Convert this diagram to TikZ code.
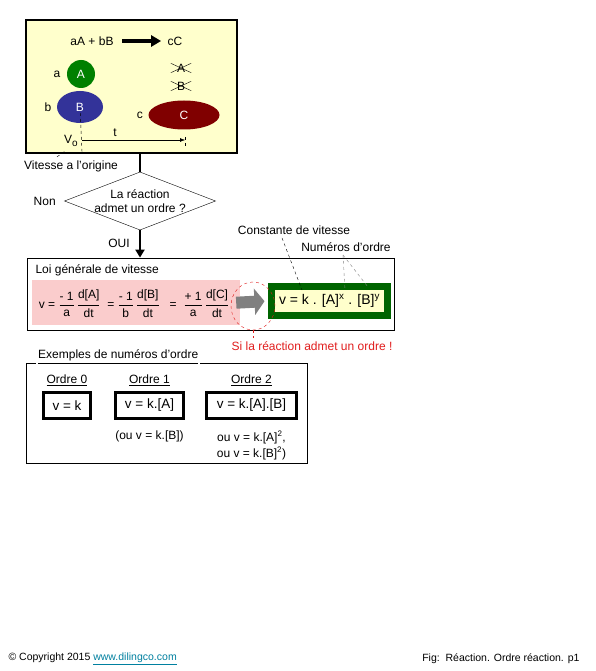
\documentclass[tikz,border=0pt]{standalone}
\usepackage{fontspec}
\setmainfont{Liberation Sans}
\usepackage{amsmath}
\usepackage{xcolor}
\usepackage{tikz}
\usetikzlibrary{arrows.meta, positioning, shapes.geometric}
\definecolor{paleyellow}{RGB}{255,255,204}
\definecolor{leafgreen}{RGB}{0,128,0}
\definecolor{inkblue}{RGB}{51,51,153}
\definecolor{winered}{RGB}{128,0,0}
\definecolor{softpink}{RGB}{250,204,204}
\definecolor{darkgreen}{RGB}{0,100,0}
\definecolor{alertred}{RGB}{225,30,30}
\definecolor{linkteal}{RGB}{0,128,160}
\newcommand{\fracpart}[2]{\genfrac{}{}{1.1pt}{0}{\text{#1}}{\text{#2}}}
\tikzset{
  panel/.style={rectangle, draw, line width=1.2pt, fill=paleyellow},
  frame/.style={rectangle, draw, line width=0.8pt},
  species/.style={ellipse, text=white, inner sep=0pt},
  gone/.style={inner sep=0pt, minimum width=20pt, minimum height=9pt},
  decision/.style={diamond, draw, aspect=2.6, align=center, inner sep=0pt, fill=white},
  flow/.style={line width=2.5pt},
  flowarrow/.style={line width=2.5pt, -{Triangle[length=8pt, width=9pt]}},
  bigarrow/.style={line width=3.5pt, -{Triangle[length=10pt, width=11pt]}},
  grayarrow/.style={line width=12pt, gray, -{Triangle[length=10pt, width=26pt]}},
  ratebox/.style={rectangle, draw=darkgreen, line width=7pt, fill=paleyellow, font=\fontsize{14}{16}\selectfont},
  formbox/.style={rectangle, draw, line width=2.5pt, fill=white, inner sep=0pt, font=\fontsize{13.5}{15}\selectfont},
  hint/.style={dashed, thin}
}

\begin{document}
\begin{tikzpicture}[x=1pt, y=-1pt, font=\fontsize{12}{14}\selectfont]
    \fill[white] (0,0) rectangle (595,671);

    \node[panel, minimum width=211pt, minimum height=133pt] (scene) at (131.5,86.5) {};
    \node (react) at (92,41) {aA + bB};
    \node (prod) at (175,41) {cC};
    \draw[bigarrow, shorten <=5pt, shorten >=3pt] (react) -- (prod);

    \node[species, fill=leafgreen, minimum width=28pt, minimum height=28pt] (atomA) at (81,74) {A};
    \node[species, fill=inkblue, minimum width=46pt, minimum height=32pt] (atomB) at (80,107) {B};
    \node[species, fill=winered, minimum width=71pt, minimum height=29pt] (atomC) at (184,115) {C};
    \node[left=3pt of atomA] (coefA) {a};
    \node[left=2pt of atomB] (coefB) {b};
    \node[left=2pt of atomC] (coefC) {c};

    \node[gone] (goneA) at (181,68) {A};
    \node[gone] (goneB) at (181,86) {B};
    \foreach \s in {goneA, goneB} {
        \draw[thin] (\s.north west) -- (\s.south east);
        \draw[thin] (\s.south west) -- (\s.north east);
    }

    \coordinate (tstart) at (82,140);
    \coordinate (tend) at (185,140);
    \coordinate (vbase) at (82,152);
    \draw[hint] (atomB.center) -- (vbase);
    \draw[-{Latex[length=5pt]}] (tstart) -- (tend) node[pos=0.32, above] (tlabel) {t};
    \draw[hint] ([yshift=3pt]tend) -- ([yshift=-7pt]tend);
    \node (vo) at (71,141) {V\raisebox{-3.5pt}{\fontsize{10}{12}\selectfont o}};
    \node (origin) at (71,166) {Vitesse a l'origine};
    \draw[hint] ([xshift=-14pt]origin.north) -- ([xshift=-5pt]vo.south);

    \node[decision] (decide) at (140,201) {La réaction\\admet un ordre ?};
    \draw[flow] (decide.north |- scene.south) -- (decide.north);
    \node[left=5pt of decide] (non) {Non};

    \node[frame, minimum width=367pt, minimum height=72pt] (law) at (210.5,294) {};
    \draw[flowarrow] (decide.south) -- (decide.south |- law.north);
    \node (oui) at (119,243) {OUI};
    \node[anchor=west] (lawtitle) at (32,270) {Loi générale de vitesse};
    \node[fill=softpink, minimum width=208pt, minimum height=45pt] (eqbg) at (136,302.5) {};
    \node (rateeq) at (134,304) {v =\ $\fracpart{- 1}{a}\,\fracpart{d[A]}{dt}$\ \ =\ $\fracpart{- 1}{b}\,\fracpart{d[B]}{dt}$\ \ \ =\ \ $\fracpart{+ 1}{a}\,\fracpart{d[C]}{dt}$};
    \node[ratebox, minimum width=116pt, minimum height=29pt] (rate) at (329.5,301) {v = k . [A]\textsuperscript{x} . [B]\textsuperscript{y}};
    \draw[grayarrow, shorten <=-4pt, shorten >=3.5pt] (eqbg.east) -- (rate.west);
    \node[ellipse, draw=alertred, dashed, minimum width=44pt, minimum height=48pt] (guard) at (253,306) {};
    \node[text=alertred] (note) at (312,346) {Si la réaction admet un ordre !};
    \draw[alertred, dashed] (guard.south) -- (guard.south |- note.north);

    \node (kconst) at (294,230) {Constante de vitesse};
    \node (orders) at (346,247) {Numéros d'ordre};
    \coordinate (kmark) at (302,290);
    \coordinate (xmark) at (345,290);
    \coordinate (ymark) at (368,287);
    \draw[hint] ([xshift=-12pt]kconst.south) -- (kmark);
    \draw[hint, gray] ([xshift=-3pt]orders.south) -- (xmark);
    \draw[hint, gray] ([xshift=-3pt]orders.south) -- (ymark);

    \node[frame, minimum width=281pt, minimum height=100pt] (examples) at (166.5,413) {};
    \node[anchor=west, fill=white, inner sep=2pt] (extitle) at (36,357) {\underline{Exemples de numéros d'ordre}};
    \node[formbox, minimum width=47pt, minimum height=26pt] (ord0) at (67,405.5) {v = k};
    \node[formbox, minimum width=68pt, minimum height=26pt] (ord1) at (149.5,405.5) {v = k.[A]};
    \node[formbox, minimum width=90pt, minimum height=26pt] (ord2) at (251.5,405.5) {v = k.[A].[B]};
    \node[above=2pt of ord0] (head0) {\underline{Ordre 0}};
    \node[above=2pt of ord1] (head1) {\underline{Ordre 1}};
    \node[above=2pt of ord2] (head2) {\underline{Ordre 2}};
    \node[below=8pt of ord1] (alt1) {(ou v = k.[B])};
    \node[below=8pt of ord2, align=center, font=\fontsize{12}{16}\selectfont] (alt2) {ou v = k.[A]\textsuperscript{2},\\ou v = k.[B]\textsuperscript{2})};

    \node[anchor=west, font=\fontsize{10.5}{12}\selectfont] (copy) at (5,659) {\textcopyright{} Copyright 2015 \textcolor{linkteal}{\underline{www.dilingco.com}}};
    \node[anchor=east, font=\fontsize{10.5}{12}\selectfont] (figref) at (583,659) {Fig:\ \ Réaction. Ordre réaction. p1};
\end{tikzpicture}
\end{document}
